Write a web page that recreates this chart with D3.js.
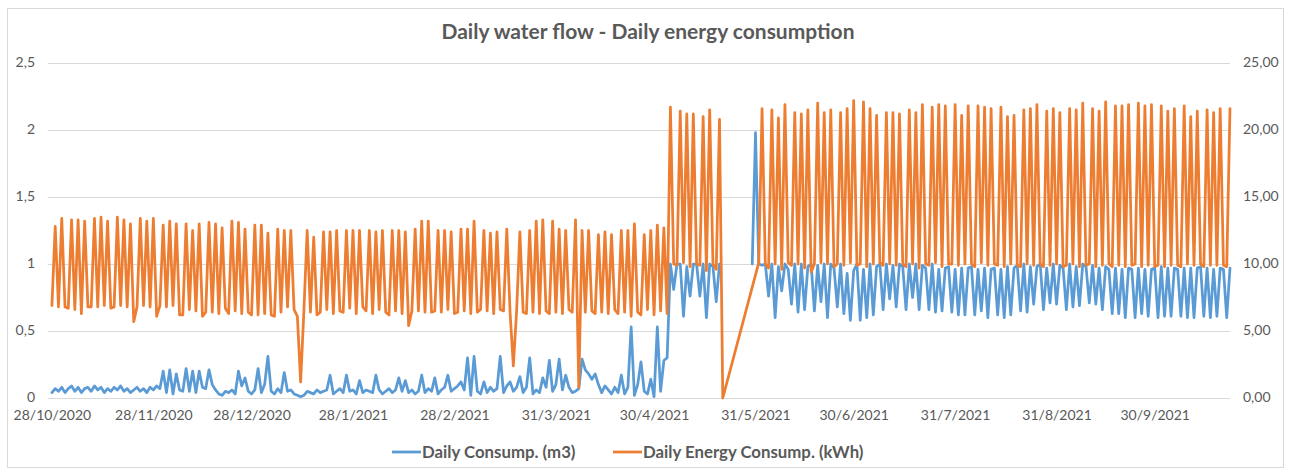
<!DOCTYPE html>
<html>
<head>
<meta charset="utf-8">
<script src="https://cdn.jsdelivr.net/npm/d3@7"></script>
<style>
body { margin: 0; background: #fff; }
text { font-family: Lato, "Liberation Sans", sans-serif; fill: #595959; }
</style>
</head>
<body>
<div id="viz"></div>
<script>
// one value per day starting at startDate, null = no reading
var startDate = "28/10/2020";

var waterM3 = [
  0.04, 0.07, 0.05, 0.08, 0.04, 0.07, 0.09,
  0.05, 0.08, 0.04, 0.07, 0.08, 0.05, 0.09,
  0.06, 0.08, 0.04, 0.07, 0.05, 0.08, 0.06,
  0.09, 0.05, 0.07, 0.04, 0.06, 0.08, 0.05,
  0.07, 0.04, 0.08, 0.06, 0.09, 0.07, 0.2,
  0.04, 0.21, 0.03, 0.18, 0.06, 0.05, 0.22,
  0.05, 0.2, 0.04, 0.2, 0.08, 0.07, 0.21,
  0.1, 0.06, 0.03, 0.02, 0.05, 0.04, 0.06,
  0.03, 0.2, 0.09, 0.15, 0.05, 0.03, 0.06,
  0.22, 0.04, 0.1, 0.31, 0.05, 0.03, 0.07,
  0.04, 0.19, 0.05, 0.06, 0.03, 0.02, 0.01,
  0.02, 0.05, 0.04, 0.03, 0.06, 0.04, 0.05,
  0.06, 0.17, 0.03, 0.05, 0.07, 0.04, 0.17,
  0.05, 0.06, 0.03, 0.13, 0.04, 0.06, 0.05,
  0.04, 0.17, 0.06, 0.03, 0.05, 0.07, 0.04,
  0.06, 0.15, 0.05, 0.13, 0.04, 0.06, 0.03,
  0.05, 0.17, 0.04, 0.07, 0.05, 0.15, 0.03,
  0.06, 0.08, 0.17, 0.05, 0.07, 0.09, 0.12,
  0.06, 0.3, 0.02, 0.31, 0.05, 0.03, 0.12,
  0.04, 0.08, 0.05, 0.07, 0.31, 0.04, 0.09,
  0.12, 0.05, 0.08, 0.16, 0.04, 0.08, 0.3,
  0.03, 0.06, 0.04, 0.15, 0.08, 0.28, 0.05,
  0.1, 0.29, 0.06, 0.17, 0.08, 0.04, 0.05,
  0.07, 0.29, 0.21, 0.18, 0.14, 0.18, 0.1,
  0.04, 0.09, 0.06, 0.03, 0.08, 0.04, 0.17,
  0.03, 0.08, 0.53, 0.02, 0.1, 0.27, 0.05,
  0.03, 0.14, 0.01, 0.53, 0.05, 0.28, 0.3,
  1.0, 0.81, 1.0, 1.0, 0.61, 0.98, 0.76,
  1.0, 1.0, 0.76, 1.0, 0.6, 1.0, 0.98,
  0.72, 1.0, null, null, null, null, null,
  null, null, null, null, 1.0, 1.98, 1.0,
  0.99, 1.0, 0.76, 1.0, 0.6, 0.98, 0.8,
  1.0, 0.96, 0.7, 1.0, 0.64, 1.0, 0.66,
  0.98, 1.0, 0.65, 0.99, 0.72, 1.0, 0.6,
  1.0, 0.97, 0.68, 1.0, 0.63, 0.93, 0.58,
  0.95, 1.0, 0.58, 0.96, 0.6, 1.0, 0.62,
  0.98, 1.0, 0.66, 1.0, 0.74, 0.99, 0.68,
  1.0, 0.98, 0.66, 1.0, 0.75, 1.0, 0.66,
  0.99, 0.97, 0.66, 1.0, 0.64, 0.96, 0.65,
  0.97, 0.98, 0.64, 0.96, 0.62, 0.97, 0.62,
  0.97, 0.98, 0.62, 0.96, 0.65, 0.97, 0.6,
  0.96, 0.97, 0.62, 0.96, 0.6, 0.98, 0.62,
  0.97, 0.99, 0.65, 1.0, 0.64, 0.98, 0.7,
  0.98, 1.0, 0.66, 0.97, 0.71, 1.0, 0.7,
  0.99, 0.97, 0.66, 1.0, 0.68, 0.98, 0.69,
  1.0, 0.98, 0.71, 0.99, 0.7, 0.97, 0.66,
  0.98, 0.96, 0.63, 0.97, 0.63, 0.96, 0.6,
  0.97, 0.96, 0.6, 0.97, 0.63, 0.96, 0.61,
  0.96, 0.97, 0.6, 0.98, 0.61, 0.97, 0.61,
  0.97, 0.96, 0.61, 0.97, 0.6, 0.97, 0.6,
  0.97, 0.98, 0.61, 0.97, 0.6, 0.96, 0.61,
  0.97, 0.96, 0.6, 0.97
];

var energyKWh = [
  6.9, 12.8, 6.8, 13.4, 6.8, 6.7, 13.3,
  6.6, 13.3, 6.3, 13.2, 6.8, 6.8, 13.4,
  6.8, 13.5, 6.9, 13.2, 6.7, 6.8, 13.5,
  6.9, 13.3, 6.8, 13.0, 5.7, 6.8, 13.4,
  6.9, 13.2, 6.8, 13.4, 6.1, 6.9, 12.9,
  6.8, 13.2, 6.9, 13.0, 6.2, 6.2, 13.0,
  6.6, 12.5, 6.5, 13.0, 6.1, 6.4, 13.1,
  6.4, 13.0, 6.3, 12.7, 6.7, 6.3, 13.2,
  6.5, 13.1, 6.3, 12.6, 6.4, 6.2, 12.9,
  6.2, 12.9, 6.3, 12.3, 6.2, 6.1, 12.6,
  6.4, 12.5, 6.8, 12.5, 6.6, 6.1, 1.2,
  6.5, 12.5, 6.4, 12.0, 6.2, 6.4, 12.4,
  6.6, 12.4, 6.3, 12.5, 6.5, 6.4, 12.5,
  6.7, 12.5, 6.3, 12.5, 6.8, 6.5, 12.5,
  6.3, 12.4, 6.6, 12.5, 6.4, 6.2, 12.5,
  6.5, 12.5, 6.3, 12.4, 5.4, 6.5, 12.6,
  6.5, 13.2, 6.4, 13.2, 6.4, 6.5, 12.5,
  6.4, 12.5, 6.6, 12.4, 6.3, 6.4, 12.6,
  6.5, 12.6, 6.3, 13.2, 6.4, 6.6, 12.5,
  6.5, 12.3, 6.3, 12.4, 6.6, 6.5, 12.6,
  6.4, 2.4, 6.5, 12.4, 6.4, 6.3, 12.5,
  6.4, 13.2, 6.3, 13.3, 6.5, 6.3, 13.2,
  6.4, 12.6, 6.3, 12.5, 6.6, 6.4, 13.3,
  0.8, 12.5, 6.4, 12.5, 6.5, 6.3, 12.2,
  6.4, 12.4, 6.3, 12.2, 6.6, 6.3, 12.5,
  6.4, 12.5, 6.1, 13.0, 6.4, 6.2, 12.2,
  6.6, 12.5, 6.2, 12.9, 6.5, 12.7, 6.3,
  21.7, 10.0, 9.9, 21.4, 10.1, 21.2, 9.8,
  21.2, 10.0, 9.9, 21.0, 9.5, 21.5, 10.0,
  9.6, 20.8, 0, null, null, null, null,
  null, null, null, null, null, null, 10.1,
  21.6, 10.0, 9.7, 21.5, 10.0, 20.9, 9.6,
  21.9, 10.1, 9.9, 21.3, 10.0, 21.2, 9.7,
  21.5, 9.4, 10.0, 22.0, 10.1, 21.3, 10.0,
  21.5, 9.8, 10.0, 21.3, 9.9, 21.6, 10.1,
  22.2, 9.9, 10.0, 22.1, 9.8, 21.6, 10.0,
  21.1, 10.1, 9.9, 21.3, 10.0, 21.3, 9.9,
  21.2, 10.0, 9.8, 21.5, 10.0, 21.3, 9.7,
  21.9, 10.0, 9.9, 21.7, 10.1, 21.9, 9.8,
  21.8, 10.0, 10.0, 21.9, 9.9, 21.1, 10.0,
  21.8, 10.0, 9.8, 21.8, 10.1, 21.7, 9.9,
  21.6, 10.0, 9.9, 21.7, 9.8, 21.0, 10.0,
  21.1, 9.9, 9.8, 21.5, 10.0, 21.6, 9.9,
  21.9, 10.0, 9.8, 21.4, 9.9, 21.6, 10.0,
  21.3, 9.8, 9.9, 21.6, 10.0, 21.5, 9.8,
  22.0, 9.9, 10.0, 21.6, 9.8, 21.4, 9.9,
  22.1, 10.0, 9.8, 21.8, 9.9, 21.8, 9.8,
  21.9, 9.9, 10.0, 22.0, 9.8, 21.8, 9.9,
  21.9, 9.8, 9.9, 21.8, 9.8, 21.4, 9.9,
  21.6, 9.9, 9.8, 21.8, 10.0, 21.0, 9.9,
  21.4, 10.0, 9.8, 21.5, 9.9, 21.3, 9.9,
  21.6, 9.9, 9.8, 21.6
];

var tickLabels = ["28/10/2020", "28/11/2020", "28/12/2020", "28/1/2021", "28/2/2021", "31/3/2021",
  "30/4/2021", "31/5/2021", "30/6/2021", "31/7/2021", "31/8/2021", "30/9/2021"];
var leftTicks = [0, 0.5, 1, 1.5, 2, 2.5];
var rightTicks = [0, 5, 10, 15, 20, 25];
var titleText = "Daily water flow - Daily energy consumption";
var waterName = "Daily Consump. (m3)";
var energyName = "Daily Energy Consump. (kWh)";

var width = 1290
var height = 472
var plotLeft = 48
var plotRight = 1230
var plotTop = 63
var plotBottom = 398
var blue = "#5b9bd5"
var orange = "#ed7d31"
var lineW = 2.75

var svg = d3
    .select("#viz")
    .append("svg")
    .attr("width", width)
    .attr("height", height);

var parseDay = d3.timeParse("%d/%m/%Y")
var fmtDay = d3.timeFormat("%-d/%-m/%Y")
var first = parseDay(startDate)
var comma = d3.formatLocale({decimal: ",", thousands: ".", grouping: [3], currency: ["", ""]})

function toPoints(values) {
    return values.map(function (v, i) {
        return {date: d3.timeDay.offset(first, i), value: v};
    });
}
var waterPts = toPoints(waterM3)
var energyPts = toPoints(energyKWh)

var x = d3.scaleTime()
    .domain([new Date(first.getTime() - 1.2 * 864e5), energyPts[energyPts.length - 1].date])
    .range([plotLeft, plotRight]);
var yLeft = d3.scaleLinear().domain([0, 2.5]).range([plotBottom, plotTop]);
var yRight = d3.scaleLinear().domain([0, 25]).range([plotBottom, plotTop]);

// chart area border
svg.append("rect")
    .attr("x", 7.5)
    .attr("y", 8.5)
    .attr("width", 1276)
    .attr("height", 459)
    .attr("fill", "white")
    .attr("stroke", "#d9d9d9");

// gridlines
svg.append("g")
    .attr("transform", "translate(" + plotLeft + ",0)")
    .call(d3.axisLeft(yLeft).tickValues(leftTicks).tickSize(-(plotRight - plotLeft)).tickFormat(""))
    .call(function (g) { g.select(".domain").remove(); })
    .selectAll("line")
    .attr("stroke", "#d9d9d9");

var fontAttrs = function (g) {
    g.attr("font-family", null).attr("font-size", null);
    g.select(".domain").remove();
    g.selectAll("text").style("font-size", "14px").attr("fill", "#595959");
}

svg.append("g")
    .attr("transform", "translate(" + plotLeft + ",0)")
    .call(d3.axisLeft(yLeft).tickValues(leftTicks).tickSize(0).tickPadding(13).tickFormat(comma.format("~g")))
    .call(fontAttrs)
    .selectAll("text").attr("dy", "0.28em");

svg.append("g")
    .attr("transform", "translate(" + plotRight + ",0)")
    .call(d3.axisRight(yRight).tickValues(rightTicks).tickSize(0).tickPadding(13).tickFormat(comma.format(".2f")))
    .call(fontAttrs)
    .selectAll("text").attr("dy", "0.28em");

svg.append("g")
    .attr("transform", "translate(0," + plotBottom + ")")
    .call(d3.axisBottom(x).tickValues(tickLabels.map(parseDay)).tickSize(0).tickPadding(12).tickFormat(fmtDay))
    .call(fontAttrs);

// series: blank water days leave a gap, missing energy days are bridged
var waterLine = d3.line()
    .defined(function (d) { return d.value !== null; })
    .x(function (d) { return x(d.date); })
    .y(function (d) { return yLeft(d.value); });
var energyLine = d3.line()
    .x(function (d) { return x(d.date); })
    .y(function (d) { return yRight(d.value); });

svg.append("path")
    .datum(waterPts)
    .attr("d", waterLine)
    .attr("fill", "none")
    .attr("stroke", blue)
    .attr("stroke-width", lineW)
    .attr("stroke-linejoin", "round")
    .attr("stroke-linecap", "round");

svg.append("path")
    .datum(energyPts.filter(function (d) { return d.value !== null; }))
    .attr("d", energyLine)
    .attr("fill", "none")
    .attr("stroke", orange)
    .attr("stroke-width", lineW)
    .attr("stroke-linejoin", "round")
    .attr("stroke-linecap", "round");

// title
svg.append("text")
    .attr("x", 648)
    .attr("y", 39)
    .attr("text-anchor", "middle")
    .style("font-size", "21px")
    .style("font-weight", "bold")
    .text(titleText);

// legend
var legend = [{name: waterName, color: blue, x: 392}, {name: energyName, color: orange, x: 613}]
legend.forEach(function (item) {
    svg.append("line")
        .attr("x1", item.x)
        .attr("x2", item.x + 29)
        .attr("y1", 452)
        .attr("y2", 452)
        .attr("stroke", item.color)
        .attr("stroke-width", lineW);
    svg.append("text")
        .attr("x", item.x + 30)
        .attr("y", 458)
        .style("font-size", "16.8px")
        .style("font-weight", "bold")
        .text(item.name);
});
</script>
</body>
</html>
